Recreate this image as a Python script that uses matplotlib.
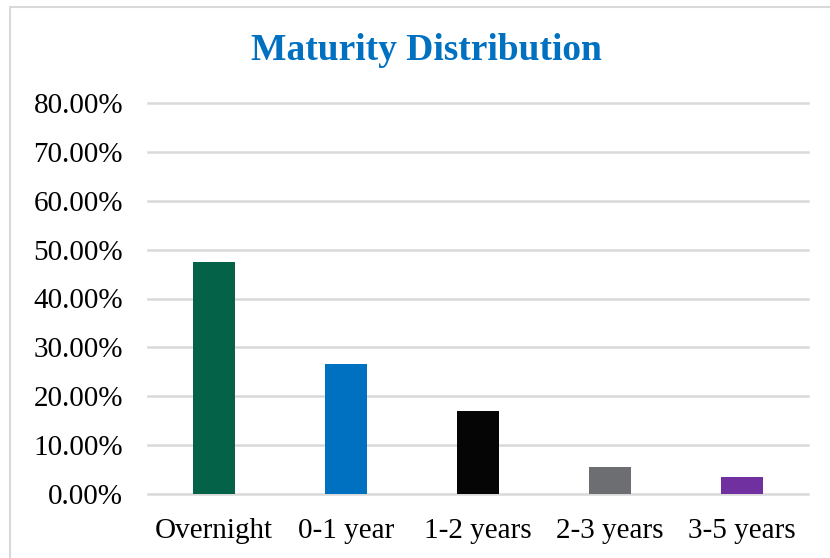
import matplotlib
matplotlib.use("Agg")
import matplotlib.pyplot as plt
from matplotlib.ticker import FuncFormatter
from matplotlib.patches import Rectangle

categories = ["Overnight", "0-1 year", "1-2 years", "2-3 years", "3-5 years"]
values = [47.5, 26.7, 16.9, 5.5, 3.4]
colors = ["#046249", "#0070C0", "#050505", "#6D6E71", "#7030A0"]
yticks = [0, 10, 20, 30, 40, 50, 60, 70, 80]

plt.rcParams['font.family'] = ['Liberation Serif', 'DejaVu Serif']

fig = plt.figure(figsize=(8.3, 5.58), dpi=100)
W, H = 830, 558
ax = fig.add_axes([148 / W, (H - 494) / H, 660 / W, (494 - 103) / H])

x = range(len(categories))
ax.bar(x, values, width=0.32, color=colors, zorder=3)
ax.set_xlim(-0.5, len(categories) - 0.5)
ax.set_ylim(0, 80)
ax.set_yticks(yticks)
ax.yaxis.set_major_formatter(FuncFormatter(lambda v, p: f"{v:.2f}%"))
ax.set_xticks(list(x))
ax.set_xticklabels(categories)
ax.grid(axis='y', color='#D9D9D9', linewidth=1.8, zorder=0)
for gl in ax.get_ygridlines():
    gl.set_clip_on(False)
for s in ax.spines.values():
    s.set_visible(False)
ax.tick_params(axis='both', length=0, labelsize=21)
ax.tick_params(axis='x', pad=17)
ax.tick_params(axis='y', pad=18)

fig.text(426 / W, 1 - 50 / H, "Maturity Distribution", ha='center', va='center',
         fontsize=27, fontweight='bold', color='#0070C0')

fig.patches.append(Rectangle((10 / W, -0.1), 1.0, 1 - 7 / H + 0.1, transform=fig.transFigure,
                             fill=False, edgecolor='#D9D9D9', linewidth=1.5))

fig.savefig("out.png", dpi=100)
